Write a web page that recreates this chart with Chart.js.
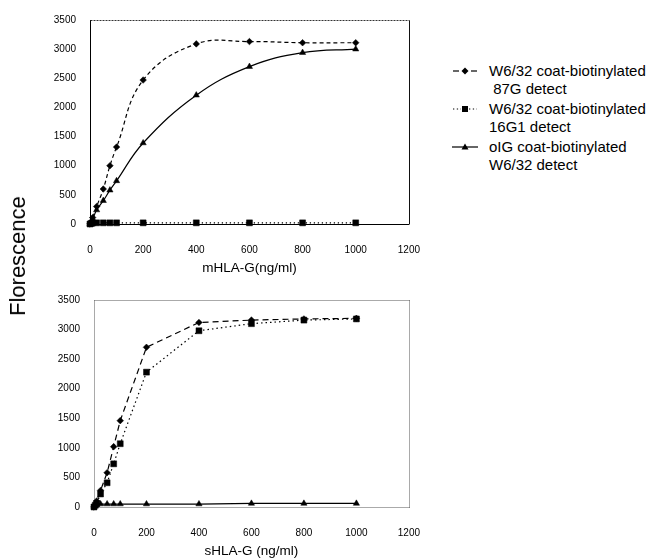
<!DOCTYPE html>
<html><head><meta charset="utf-8">
<script src="https://cdn.jsdelivr.net/npm/chart.js@4/dist/chart.umd.min.js"></script>
<style>
body{margin:0;background:#fff;width:650px;height:560px;position:relative;overflow:hidden;font-family:'Liberation Sans',Arial,sans-serif;color:#000;}
.c{position:absolute;left:0;width:440px;height:280px;}
#ylab{position:absolute;left:17.5px;top:255.5px;transform:translate(-50%,-50%) rotate(-90deg);font-size:22px;white-space:nowrap;}
#legend{position:absolute;left:452px;top:62px;font-size:15px;}
.item{position:relative;height:36px;margin-bottom:2px;line-height:18px;padding-left:37px;white-space:nowrap;}
.item svg{position:absolute;left:0;top:3px}
</style></head>
<body>
<div class="c" style="top:0"><canvas id="topChart"></canvas></div>
<div class="c" style="top:280px"><canvas id="botChart"></canvas></div>
<div id="ylab">Florescence</div>
<div id="legend">
  <div class="item"><svg width="28" height="12"><line x1="1" y1="6" x2="7" y2="6" stroke="#000" stroke-width="1.2"/><line x1="19" y1="6" x2="25" y2="6" stroke="#000" stroke-width="1.2"/><polygon points="13,2.5 16.5,6 13,9.5 9.5,6" fill="#000"/></svg>W6/32 coat-biotinylated<br>&nbsp;87G detect</div>
  <div class="item"><svg width="28" height="12"><line x1="1" y1="6" x2="9" y2="6" stroke="#000" stroke-width="1.2" stroke-dasharray="1.3,2.5"/><line x1="17" y1="6" x2="25" y2="6" stroke="#000" stroke-width="1.2" stroke-dasharray="1.3,2.5"/><rect x="10" y="3" width="6" height="6" fill="#000"/></svg>W6/32 coat-biotinylated<br>16G1 detect</div>
  <div class="item"><svg width="28" height="12"><line x1="0" y1="6" x2="26" y2="6" stroke="#000" stroke-width="1.2"/><polygon points="13,2.5 16.5,8.5 9.5,8.5" fill="#000"/></svg>oIG coat-biotinylated<br>W6/32 detect</div>
</div>
<script>
// ---- data ----
const concentrations = [0, 5, 10, 25, 50, 75, 100, 200, 400, 600, 800, 1000];
const mHLA_87G  = [0, 40, 110, 300, 600, 1000, 1320, 2470, 3090, 3130, 3110, 3110];
const mHLA_16G1 = [0, 10, 20, 20, 20, 20, 20, 20, 20, 20, 20, 20];
const mHLA_W632 = [0, 30, 80, 240, 400, 580, 740, 1390, 2210, 2700, 2940, 3000];
const sHLA_87G  = [0, 40, 100, 280, 580, 1020, 1460, 2700, 3120, 3160, 3180, 3190];
const sHLA_16G1 = [0, 30, 60, 220, 410, 730, 1070, 2280, 2980, 3100, 3160, 3180];
const sHLA_W632 = [10, 30, 40, 50, 50, 50, 50, 50, 50, 60, 60, 60];
const xTicks = [0, 200, 400, 600, 800, 1000, 1200];
const yTicks = [0, 500, 1000, 1500, 2000, 2500, 3000, 3500];
const seriesNames = ['W6/32 coat-biotinylated 87G detect', 'W6/32 coat-biotinylated 16G1 detect', 'oIG coat-biotinylated W6/32 detect'];

const FONT = "'Liberation Sans', Arial, sans-serif";
const pts = arr => concentrations.map((x, i) => ({x: x, y: arr[i]}));

const frame = {
  id: 'frame',
  beforeDatasetsDraw(chart, args, opts) {
    const {ctx, chartArea: a} = chart;
    ctx.save();
    (opts.sides || []).forEach(s => {
      ctx.beginPath();
      ctx.strokeStyle = s.color; ctx.lineWidth = s.width || 1;
      ctx.setLineDash(s.dash || []);
      const L = Math.round(a.left) + 0.5, R = Math.round(a.right) + 0.5, T = Math.round(a.top) + 0.5, B = Math.round(a.bottom) + 0.5;
      if (s.side === 'top') { ctx.moveTo(L, T); ctx.lineTo(R, T); }
      if (s.side === 'right') { ctx.moveTo(R, T); ctx.lineTo(R, B); }
      if (s.side === 'bottom') { ctx.moveTo(L, B); ctx.lineTo(R, B); }
      if (s.side === 'left') { ctx.moveTo(L, T); ctx.lineTo(L, B); }
      ctx.stroke();
    });
    ctx.restore();
  }
};

function makeChart(id, o) {
  return new Chart(document.getElementById(id), {
    type: 'line',
    data: { datasets: [
      { label: seriesNames[0], data: pts(o.d1), borderColor: '#000', backgroundColor: '#000', borderWidth: 1.2,
        borderDash: o.dash1, pointStyle: 'rectRot', pointRadius: 3.3, pointBorderWidth: 0.5, tension: o.tension, clip: false },
      { label: seriesNames[1], data: pts(o.d2), borderColor: '#000', backgroundColor: '#000', borderWidth: 1.2,
        borderDash: o.dash2, pointStyle: 'rect', pointRadius: 4.2, pointBorderWidth: 0.5, tension: 0, clip: false },
      { label: seriesNames[2], data: pts(o.d3), borderColor: '#000', backgroundColor: '#000', borderWidth: 1.2,
        pointStyle: 'triangle', pointRadius: 3.6, pointBorderWidth: 0.5, tension: o.tension, clip: false }
    ]},
    options: {
      responsive: true, maintainAspectRatio: false, animation: false,
      layout: { padding: { top: o.padTop, right: 16, left: 0, bottom: 0 } },
      plugins: { legend: { display: false }, tooltip: { enabled: false }, frame: { sides: o.sides } },
      scales: {
        x: {
          type: 'linear', min: 0, max: 1200,
          afterBuildTicks: s => { s.ticks = xTicks.map(v => ({value: v})); },
          afterFit: s => { s.height = o.xh; },
          grid: { display: false, drawTicks: false },
          border: { display: o.axisBorder, color: '#000', width: 1 },
          ticks: { color: '#000', font: { family: FONT, size: 10 }, padding: o.xPad, maxRotation: 0, callback: v => String(v) },
          title: { display: true, text: o.xTitle, color: '#000', font: { family: FONT, size: 13.5 }, padding: { top: 0, bottom: o.titlePad } }
        },
        y: {
          type: 'linear', min: 0, max: 3500,
          afterBuildTicks: s => { s.ticks = yTicks.map(v => ({value: v})); },
          afterFit: s => { s.width = o.yw; },
          grid: { display: false, drawTicks: false },
          border: { display: o.axisBorder, color: '#000', width: 1 },
          ticks: { color: '#000', font: { family: FONT, size: 10 }, padding: 14, callback: v => String(v) }
        }
      }
    },
    plugins: [frame]
  });
}

makeChart('topChart', {
  d1: mHLA_87G, d2: mHLA_16G1, d3: mHLA_W632,
  dash1: [4, 3], dash2: [1.3, 2.7], tension: 0.4,
  padTop: 15, xh: 56, yw: 90, xPad: 20, titlePad: 4, xTitle: 'mHLA-G(ng/ml)', axisBorder: true,
  sides: [ { side: 'top', color: '#333', dash: [2, 1] }, { side: 'right', color: '#111' } ]
});

makeChart('botChart', {
  d1: sHLA_87G, d2: sHLA_16G1, d3: sHLA_W632,
  dash1: [6, 4], dash2: [1.5, 3], tension: 0,
  padTop: 11, xh: 53, yw: 94, xPad: 20, titlePad: 1, xTitle: 'sHLA-G (ng/ml)', axisBorder: false,
  sides: [ { side: 'top', color: '#555', dash: [1, 1] }, { side: 'right', color: '#555', dash: [1, 1] },
           { side: 'bottom', color: '#555', dash: [1, 1] }, { side: 'left', color: '#555', dash: [1, 1] } ]
});
</script>
</body></html>
